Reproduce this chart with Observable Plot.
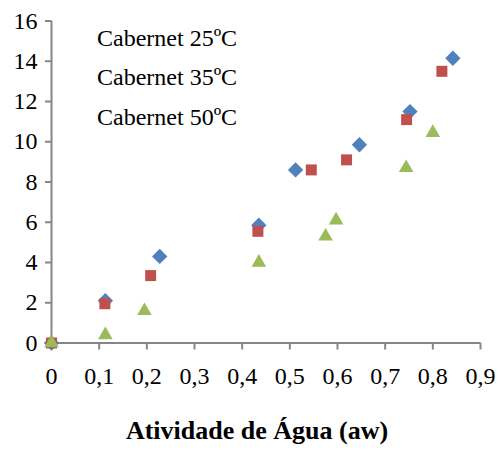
<!DOCTYPE html>
<html>
<head>
<meta charset="utf-8">
<script src="https://cdn.jsdelivr.net/npm/d3@7"></script>
<script src="https://cdn.jsdelivr.net/npm/@observablehq/plot@0.6"></script>
<style>
  body { margin: 0; background: #fff; }
  #chart { position: relative; width: 500px; height: 450px; font-family: "Liberation Serif", "Times New Roman", serif; color: #000; }
  #legend { position: absolute; left: 97px; top: 19px; font-size: 24px; line-height: 39.3px; }
  #xtitle { position: absolute; left: 0; width: 514px; top: 416px; text-align: center; font-size: 26px; font-weight: bold; line-height: 30px; }
</style>
</head>
<body>
<div id="chart">
  <div id="legend"></div>
  <div id="xtitle"></div>
</div>
<script>
// Moisture sorption data for Cabernet at three temperatures
const seriesNames = ["Cabernet 25ºC", "Cabernet 35ºC", "Cabernet 50ºC"];
const aw25 = [0, 0.113, 0.227, 0.435, 0.512, 0.646, 0.752, 0.842];
const m25  = [0, 2.1, 4.3, 5.85, 8.6, 9.85, 11.5, 14.15];
const aw35 = [0, 0.112, 0.208, 0.433, 0.545, 0.619, 0.745, 0.819];
const m35  = [0, 1.95, 3.35, 5.55, 8.6, 9.1, 11.1, 13.5];
const aw50 = [0, 0.113, 0.195, 0.435, 0.575, 0.597, 0.744, 0.8];
const m50  = [0, 0.4, 1.6, 4.0, 5.3, 6.1, 8.7, 10.45];
const xTicks = [0, 0.1, 0.2, 0.3, 0.4, 0.5, 0.6, 0.7, 0.8, 0.9];
const yTicks = [0, 2, 4, 6, 8, 10, 12, 14, 16];
const xTitle = "Atividade de Água (aw)";

const colors = ["#4F81BD", "#C0504D", "#9BBB59"];
const symbols = ["diamond2", "square", "triangle"];
const radii = [6.9, 6.2, 5.4];

const seriesX = [aw25, aw35, aw50];
const seriesY = [m25, m35, m50];
const rows = seriesNames.flatMap((name, i) =>
  seriesX[i].map((x, j) => ({ series: name, idx: i, x, y: seriesY[i][j] }))
);

const fmt = d => (d === 0 ? "0" : d3.format(".1f")(d).replace(".", ","));
const axisGray = "#868686";
const serif = "Liberation Serif";

const plot = Plot.plot({
  width: 500,
  height: 400,
  marginLeft: 51,
  marginRight: 20,
  marginTop: 20.5,
  marginBottom: 57.5,
  style: { fontFamily: serif, fontSize: "24px", color: "#000", background: "#fff" },
  x: { domain: [0, 0.9] },
  y: { domain: [0, 16] },
  marks: [
    Plot.axisX({ ticks: xTicks, tickFormat: fmt, tickSize: 7, tickPadding: 17, stroke: axisGray, strokeWidth: 2, fill: "#000", fontSize: 24, fontFamily: serif, fontVariant: "normal", label: null }),
    Plot.axisY({ ticks: yTicks, tickSize: 6, tickPadding: 8, stroke: axisGray, strokeWidth: 2, fill: "#000", fontSize: 24, fontFamily: serif, fontVariant: "normal", label: null }),
    Plot.ruleY([0], { stroke: axisGray, strokeWidth: 2 }),
    Plot.ruleX([0], { stroke: axisGray, strokeWidth: 2 }),
    ...seriesNames.map((name, i) =>
      Plot.dot(rows.filter(d => d.idx === i), {
        x: "x", y: "y",
        symbol: () => symbols[i],
        fill: colors[i],
        r: radii[i],
        stroke: "none"
      })
    )
  ]
});

const chart = document.getElementById("chart");
chart.insertBefore(plot, chart.firstChild);

const legend = document.getElementById("legend");
seriesNames.forEach(name => {
  const div = document.createElement("div");
  div.textContent = name;
  legend.appendChild(div);
});
document.getElementById("xtitle").textContent = xTitle;
</script>
</body>
</html>
